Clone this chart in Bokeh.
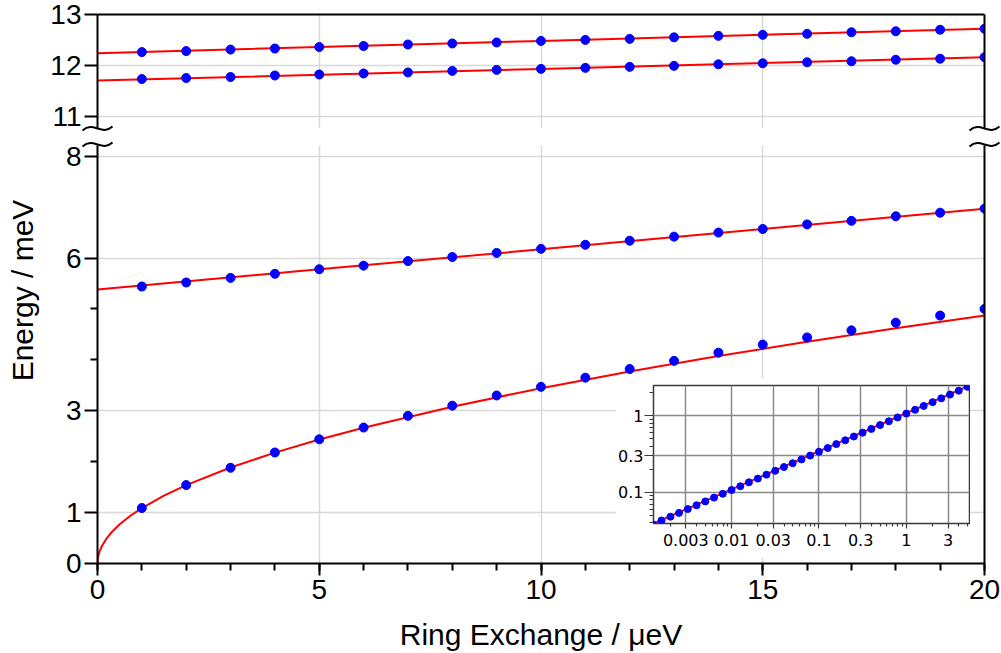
import math

from bokeh.core.properties import value
from bokeh.embed import file_html
from bokeh.layouts import column
from bokeh.models import FixedTicker, LinearAxis, Range1d
from bokeh.plotting import figure
from bokeh.resources import INLINE

# ---------------------------------------------------------------- data
ring_exchange = list(range(1, 21))  # micro-eV

# four lowest excitation energies (meV)
level_1 = [1.09, 1.54, 1.88, 2.18, 2.44, 2.67, 2.90, 3.10, 3.30, 3.47,
           3.65, 3.82, 3.98, 4.14, 4.30, 4.44, 4.58, 4.73, 4.87, 5.00]
level_2 = [5.44, 5.52, 5.61, 5.69, 5.78, 5.85, 5.94, 6.02, 6.10, 6.18,
           6.26, 6.34, 6.42, 6.50, 6.57, 6.66, 6.73, 6.82, 6.89, 6.97]
level_3 = [11.73, 11.75, 11.77, 11.80, 11.82, 11.84, 11.86, 11.89, 11.91, 11.93,
           11.95, 11.97, 11.99, 12.02, 12.04, 12.06, 12.08, 12.11, 12.13, 12.16]
level_4 = [12.26, 12.28, 12.31, 12.33, 12.36, 12.38, 12.41, 12.43, 12.45, 12.48,
           12.50, 12.52, 12.55, 12.58, 12.60, 12.62, 12.65, 12.67, 12.70, 12.72]

# fitted curves
fit_1_x = [0, 0.005, 0.02, 0.05, 0.1, 0.2, 0.35, 0.5, 0.75, 1, 1.5, 2, 3, 4,
           5, 6, 8, 10, 12, 14, 16, 18, 20]
fit_1_e = [0, 0.077, 0.154, 0.244, 0.344, 0.487, 0.644, 0.770, 0.943, 1.089,
           1.334, 1.540, 1.886, 2.178, 2.435, 2.668, 3.080, 3.444, 3.772,
           4.075, 4.356, 4.620, 4.870]
fit_2_x = [0, 5, 10, 15, 20]
fit_2_e = [5.38, 5.78, 6.17, 6.57, 6.97]
fit_3_x = [0, 10, 20]
fit_3_e = [11.70, 11.93, 12.16]
fit_4_x = [0, 10, 20]
fit_4_e = [12.24, 12.48, 12.72]

# low-energy gap on log-log scale
inset_j = [0.00126, 0.00158, 0.00200, 0.00251, 0.00316, 0.00398, 0.00501,
           0.00631, 0.00794, 0.0100, 0.0126, 0.0158, 0.0200, 0.0251, 0.0316,
           0.0398, 0.0501, 0.0631, 0.0794, 0.100, 0.126, 0.158, 0.200, 0.251,
           0.316, 0.398, 0.501, 0.631, 0.794, 1.00, 1.26, 1.58, 2.00, 2.51,
           3.16, 3.98, 5.01]
inset_e = [0.0380, 0.0427, 0.0479, 0.0537, 0.0603, 0.0676, 0.0759, 0.0851,
           0.0955, 0.107, 0.120, 0.135, 0.151, 0.170, 0.191, 0.214, 0.240,
           0.269, 0.302, 0.339, 0.380, 0.427, 0.479, 0.537, 0.603, 0.676,
           0.759, 0.851, 0.955, 1.072, 1.202, 1.349, 1.514, 1.698, 1.905,
           2.138, 2.399]
inset_fit_j = [0.00128, 5.28]
inset_fit_e = [0.039, 2.50]

x_ticks = [0, 5, 10, 15, 20]
upper_ticks = [11, 12, 13]
lower_ticks = [0, 1, 3, 6, 8]
lower_minor = [2, 4, 5]
inset_x_ticks = [0.003, 0.01, 0.03, 0.1, 0.3, 1, 3]
inset_x_labels = ["0.003", "0.01", "0.03", "0.1", "0.3", "1", "3"]
inset_y_ticks = [0.1, 0.3, 1]
inset_y_labels = ["0.1", "0.3", "1"]

# ---------------------------------------------------------------- style
FONT = "Liberation Sans"
W, H = 1001, 653
UPPER_H = 136
GRID = "#d9d9d9"
RED = "#ff0000"
BLUE = "#0000ff"

x_range = Range1d(0, 20)


def base_style(p):
    p.outline_line_color = None
    p.background_fill_color = "white"
    p.border_fill_color = "white"
    p.xgrid.ticker = FixedTicker(ticks=[5, 10, 15])
    p.xgrid.grid_line_color = GRID
    p.xgrid.grid_line_width = 1.5
    p.ygrid.grid_line_color = GRID
    p.ygrid.grid_line_width = 1.5


def style_axis(ax, size="28px"):
    ax.axis_line_color = "black"
    ax.axis_line_width = 2
    ax.major_tick_line_color = "black"
    ax.major_tick_line_width = 2
    ax.minor_tick_line_color = "black"
    ax.minor_tick_line_width = 2
    ax.major_tick_in = 0
    ax.minor_tick_in = 0
    ax.major_label_text_font = FONT
    ax.major_label_text_font_size = size
    ax.major_label_text_color = "black"


def border_axis(p, side):
    ax = LinearAxis(ticker=FixedTicker(ticks=[]))
    ax.axis_line_color = "black"
    ax.axis_line_width = 2
    ax.major_tick_line_color = None
    ax.minor_tick_line_color = None
    ax.major_label_text_font_size = "0px"
    p.add_layout(ax, side)


# ---------------------------------------------------------------- upper panel
upper = figure(width=W, height=UPPER_H, x_range=x_range, y_range=Range1d(10.757, 13.0),
               output_backend="svg", toolbar_location=None, x_axis_location=None,
               min_border_left=97, min_border_right=17, min_border_top=14,
               min_border_bottom=UPPER_H - 128)
base_style(upper)
upper.ygrid.ticker = FixedTicker(ticks=[11, 12])
ay = upper.yaxis[0]
ay.ticker = FixedTicker(ticks=upper_ticks)
style_axis(ay)
ay.major_tick_out = 13
ay.major_label_standoff = 3
border_axis(upper, "above")
border_axis(upper, "right")

for fx, fe, lv in ((fit_3_x, fit_3_e, level_3), (fit_4_x, fit_4_e, level_4)):
    upper.line(fx, fe, line_color=RED, line_width=2)
    upper.scatter(ring_exchange, lv, size=9, fill_color=BLUE, line_color=BLUE)

# ---------------------------------------------------------------- lower panel
lower = figure(width=W, height=H - UPPER_H, x_range=x_range, y_range=Range1d(0, 8.21),
               output_backend="svg", toolbar_location=None,
               min_border_left=97, min_border_right=17, min_border_top=145 - UPPER_H,
               min_border_bottom=90)
base_style(lower)
lower.ygrid.ticker = FixedTicker(ticks=[1, 3, 6, 8])
ly = lower.yaxis[0]
ly.ticker = FixedTicker(ticks=lower_ticks, minor_ticks=lower_minor)
style_axis(ly)
ly.major_tick_out = 13
ly.minor_tick_out = 7
ly.major_label_standoff = 3
lx = lower.xaxis[0]
lx.ticker = FixedTicker(ticks=x_ticks, minor_ticks=list(range(0, 21)))
style_axis(lx)
lx.major_tick_out = 12
lx.minor_tick_out = 7
lx.major_label_standoff = 4
lx.axis_label = "Ring Exchange / \u03bceV"
lx.axis_label_text_font = FONT
lx.axis_label_text_font_size = "30px"
lx.axis_label_text_font_style = "normal"
lx.axis_label_text_color = "black"
lx.axis_label_standoff = 16
border_axis(lower, "right")

for fx, fe, lv in ((fit_1_x, fit_1_e, level_1), (fit_2_x, fit_2_e, level_2)):
    lower.line(fx, fe, line_color=RED, line_width=2)
    lower.scatter(ring_exchange, lv, size=9, fill_color=BLUE, line_color=BLUE)

# ---------------------------------------------------------------- inset
inset = figure(width=355, height=180, x_axis_type="log", y_axis_type="log",
               x_range=Range1d(0.00128, 5.28), y_range=Range1d(0.039, 2.5),
               output_backend="svg", toolbar_location=None, frame_align=False,
               min_border_left=34, min_border_right=1, min_border_top=7,
               min_border_bottom=35,
               styles={"position": "absolute", "left": "615px", "top": "378px"})
inset.background_fill_color = "white"
inset.border_fill_color = "white"
inset.outline_line_color = "#3a3a3a"
inset.outline_line_width = 1.5
ix = inset.xaxis[0]
ix.ticker = FixedTicker(ticks=inset_x_ticks,
                        minor_ticks=[0.002, 0.004, 0.005, 0.006, 0.007, 0.008, 0.009,
                                     0.02, 0.04, 0.05, 0.06, 0.07, 0.08, 0.09,
                                     0.2, 0.4, 0.5, 0.6, 0.7, 0.8, 0.9, 2, 4, 5])
ix.major_label_overrides = dict(zip(inset_x_ticks, inset_x_labels))
iy = inset.yaxis[0]
iy.ticker = FixedTicker(ticks=inset_y_ticks,
                        minor_ticks=[0.04, 0.05, 0.06, 0.07, 0.08, 0.09,
                                     0.2, 0.4, 0.5, 0.6, 0.7, 0.8, 0.9, 2])
iy.major_label_overrides = dict(zip(inset_y_ticks, inset_y_labels))
for ax in (ix, iy):
    ax.axis_line_color = None
    ax.major_tick_line_color = "#3a3a3a"
    ax.minor_tick_line_color = "#3a3a3a"
    ax.major_tick_line_width = 1.2
    ax.minor_tick_line_width = 1.2
    ax.major_tick_in = 0
    ax.minor_tick_in = 0
    ax.major_label_text_font = "DejaVu Sans"
    ax.major_label_text_font_size = "16px"
    ax.major_label_text_color = "black"
ix.major_tick_out = 5
ix.minor_tick_out = 3
ix.major_label_standoff = 5
iy.major_tick_out = 9
iy.minor_tick_out = 4
iy.major_label_standoff = 1
inset.xgrid.grid_line_color = "#8a8a8a"
inset.ygrid.grid_line_color = "#8a8a8a"
inset.xgrid.grid_line_width = 1.5
inset.ygrid.grid_line_width = 1.5
inset.line(inset_fit_j, inset_fit_e, line_color=RED, line_width=2)
inset.scatter(inset_j, inset_e, size=7, fill_color=BLUE, line_color=BLUE)

# ---------------------------------------------------------------- overlay: axis breaks and y title
over = figure(width=W, height=H, x_range=Range1d(0, W), y_range=Range1d(H, 0),
              output_backend="svg", toolbar_location=None, frame_align=False,
              x_axis_location=None, y_axis_location=None, min_border=0,
              styles={"position": "absolute", "left": "0px", "top": "0px"})
over.outline_line_color = None
over.background_fill_alpha = 0
over.border_fill_alpha = 0
over.xgrid.visible = False
over.ygrid.visible = False
brk_x0 = [82, 82, 969, 969]
brk_y = [128, 144, 128, 144]
over.bezier(x0=brk_x0, y0=[y + 2 for y in brk_y],
            x1=[x + 30 for x in brk_x0], y1=[y - 2 for y in brk_y],
            cx0=[x + 11 for x in brk_x0], cy0=[y - 8 for y in brk_y],
            cx1=[x + 19 for x in brk_x0], cy1=[y + 8 for y in brk_y],
            line_color="black", line_width=2)
over.text(x=[22], y=[290], text=["Energy / meV"], angle=math.pi / 2,
          text_font=value(FONT), text_font_size="30px", text_color="black",
          text_align="center", text_baseline="middle")

page = column(upper, lower, inset, over, width=W, height=H)
open("out.html", "w").write(file_html(page, INLINE))
